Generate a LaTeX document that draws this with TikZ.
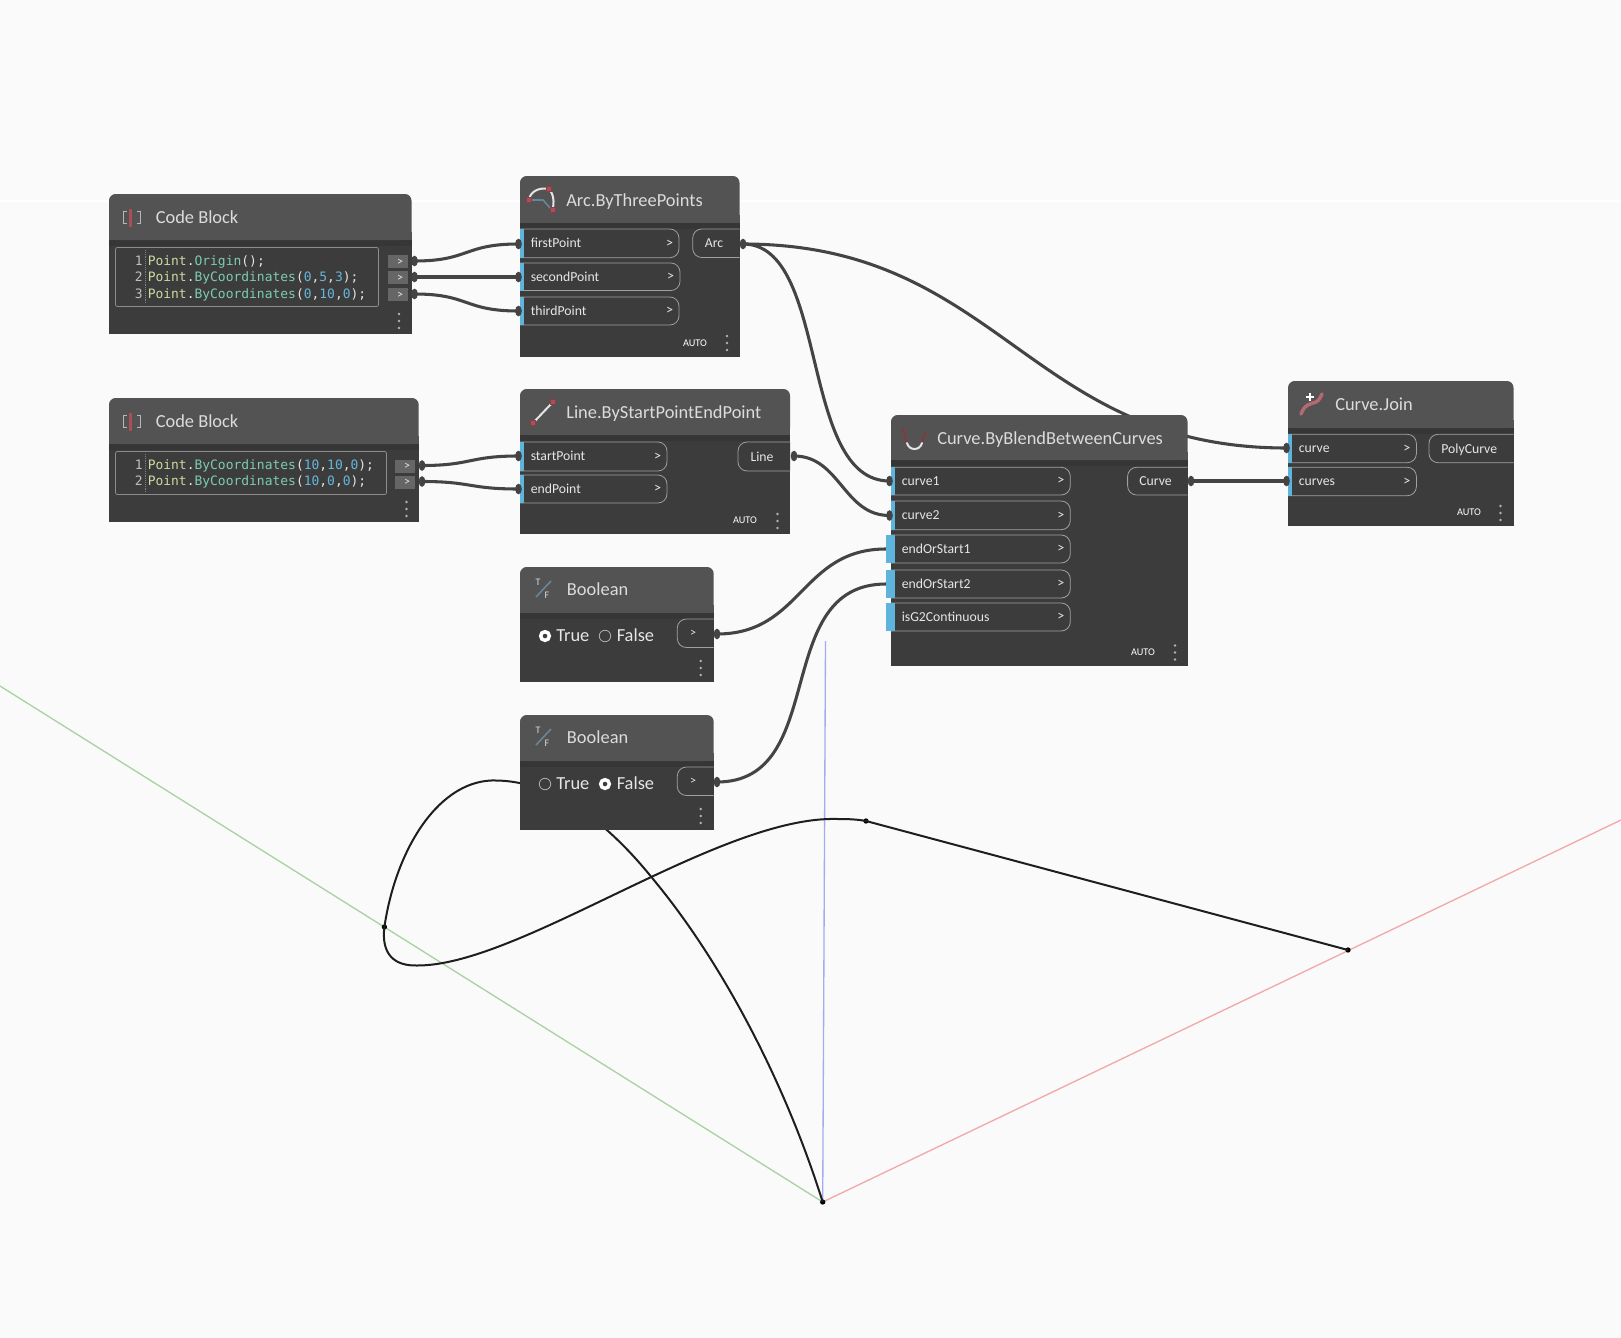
\documentclass[tikz,border=0pt]{standalone}
\usepackage{fontspec}
\setmainfont{Carlito}
\newfontfamily\codefont{DejaVu Sans Mono}
\definecolor{bgc}{HTML}{FAFAFA}
\definecolor{bodyc}{HTML}{3C3C3C}
\definecolor{bandc}{HTML}{363636}
\definecolor{headc}{HTML}{535353}
\definecolor{wirec}{HTML}{444444}
\definecolor{stripc}{HTML}{5FB4DC}
\definecolor{pillc}{HTML}{A0A0A0}
\definecolor{labc}{HTML}{E6E6E6}
\definecolor{titc}{HTML}{DCDCDC}
\definecolor{geoc}{HTML}{1E1E1E}
\definecolor{cP}{HTML}{CADB9E}
\definecolor{cF}{HTML}{7CCBB4}
\definecolor{cN}{HTML}{66B6DA}
\definecolor{cW}{HTML}{E4E4E4}
\definecolor{icred}{HTML}{A84F58}
\definecolor{icblue}{HTML}{66869C}
\definecolor{axg}{HTML}{A9D3A2}
\definecolor{axr}{HTML}{F2A9A9}
\definecolor{axb}{HTML}{A9A9F2}
\newcommand\cPt[1]{\textcolor{cP}{#1}}
\newcommand\cFn[1]{\textcolor{cF}{#1}}
\newcommand\cNm[1]{\textcolor{cN}{#1}}
\pgfdeclarelayer{geom}
\pgfdeclarelayer{wires}
\pgfsetlayers{geom,wires,main}
\usetikzlibrary{shapes.geometric}
\tikzset{
  titletext/.style={anchor=base west,inner sep=0pt,text=titc,font=\fontsize{13.8}{15}\selectfont},
  labeltext/.style={anchor=base west,inner sep=0pt,text=labc,font=\fontsize{10.3}{12}\selectfont},
  outtext/.style={anchor=base,inner sep=0pt,text=labc,font=\fontsize{10.3}{12}\selectfont},
  chev/.style={anchor=center,inner sep=0pt,text=labc,font=\fontsize{10.5}{12}\selectfont},
  smallchev/.style={anchor=center,inner sep=0pt,text=labc,font=\fontsize{9}{10}\selectfont},
  autotext/.style={anchor=center,inner sep=0pt,text=white,font=\fontsize{7.7}{9}\selectfont},
  radiotext/.style={anchor=base west,inner sep=0pt,text=labc,font=\fontsize{13.8}{15}\selectfont},
  codetext/.style={anchor=base west,inner sep=0pt,text=cW,font=\codefont\fontsize{9.72}{11}\selectfont},
  numtext/.style={anchor=base east,inner sep=0pt,text=black!25,font=\codefont\fontsize{9.72}{11}\selectfont},
  pillbox/.style={draw=pillc,line width=0.6pt,fill=bodyc,rounded corners=6.8pt},
  nubbox/.style={ellipse,draw=none,fill=wirec,minimum width=5pt,minimum height=8pt,inner sep=0pt},
  endpt/.style={circle,fill=black,draw=none,minimum size=4pt,inner sep=0pt},
  wire/.style={draw=wirec,line width=2.3pt},
  geocurve/.style={draw=geoc,line width=1.5pt},
  axis/.style={line width=1pt},
  icwhite/.style={draw=white!90!black,line width=1.5pt,line cap=round},
  icsq/.style={draw=icred!80!black,fill=icred,line width=0.3pt},
}
% card: name x1 y1 x2 y2 yh
\newcommand\dyncard[6]{%
  \fill[bodyc] (#2,#6) rectangle (#4,#5);
  \fill[bandc] (#2,#6) rectangle (#4,#6+6);
  \fill[headc,rounded corners=5pt] (#2,#6) -- (#2,#3) -- (#4,#3) -- (#4,#6) -- cycle;
  \fill[headc] (#2,#6-8) rectangle (#4,#6);
}
% in port: name-prefix x y1 y2 xright label striplft
\newcommand\inport[7]{%
  \draw[pillbox] (#2,#3) -- (#5,#3) -- (#5,#4) -- (#2,#4);
  \fill[stripc] (#7,#3) rectangle (#2+4,#4);
  \node[labeltext] (#1-l) at (#2+10.5,{(#3+#4)/2+4.3}) {#6};
  \node[chev] (#1-c) at (#5-9.5,{(#3+#4)/2}) {>};
}
% out port: name x1 x2 y1 y2 label
\newcommand\outport[6]{%
  \draw[pillbox] (#3,#4) -- (#2,#4) -- (#2,#5) -- (#3,#5);
  \node[outtext] (#1-l) at ({(#2+#3)/2-2},{(#4+#5)/2+4.5}) {#6};
}
\newcommand\threedots[3]{%
  \foreach \k in {-7,0,7} \fill[black!30] (#2,#3+\k) circle[radius=1.05pt];
  \coordinate (#1) at (#2,#3);
}
\newcommand\radio[4]{% name x y selected
  \ifnum#4=1
    \node[circle,draw=white,line width=2.6pt,fill=bodyc,minimum size=6.5pt,inner sep=0pt] (#1) at (#2,#3) {};
  \else
    \node[circle,draw=black!30,line width=0.6pt,fill=bodyc,minimum size=8.6pt,inner sep=0pt] (#1) at (#2,#3) {};
  \fi
}
\newcommand\boolicon[3]{% name x y (of card top-left)
  \draw[icblue,line width=1.2pt] (#2+16,#3+30) -- (#2+31,#3+14);
  \node[anchor=center,inner sep=0pt,text=black!15,font=\fontsize{7.5}{8}\selectfont] (#1-t) at (#2+18,#3+15) {T};
  \node[anchor=center,inner sep=0pt,text=black!15,font=\fontsize{7.5}{8}\selectfont] (#1-f) at (#2+27,#3+28) {F};
}
\newcommand\cbicon[2]{%
  \draw[white!72!black,line width=0.75pt] (#1+4.5,#2+17) -- (#1+1,#2+17) -- (#1+1,#2+29) -- (#1+4.5,#2+29);
  \draw[white!72!black,line width=0.75pt] (#1+15,#2+17) -- (#1+18.5,#2+17) -- (#1+18.5,#2+29) -- (#1+15,#2+29);
  \draw[icred,line width=1.9pt] (#1+8.5,#2+15) -- (#1+8.5,#2+33);
}
\begin{document}
\begin{tikzpicture}[x=0.75pt,y=-0.75pt]
\useasboundingbox (0,0) rectangle (1621,1338);
\begin{pgfonlayer}{geom}
  \fill[bgc] (0,0) rectangle (1621,1338);
  \draw[white,line width=0.8pt] (0,201) -- (1621,201);
  \coordinate (origin) at (822.7,1202);
  \coordinate (ygo) at (0,686);
  \coordinate (xgo) at (1621,820);
  \coordinate (zgo) at (825.5,641);
  \draw[axis,draw=axg] (origin) -- (ygo);
  \draw[axis,draw=axr] (origin) -- (xgo);
  \draw[axis,draw=axb] (origin) -- (zgo);
  \node[endpt] (pa) at (384.4,927) {};
  \node[endpt] (pb) at (866,821) {};
  \node[endpt] (pc) at (1348,950) {};
  \node[endpt] (po) at (origin) {};
  % arc, partly behind the second Boolean
  \draw[geocurve] (po.center) .. controls (785,1082) and (722,962) .. (653,879)
     .. controls (620,838) and (565,782) .. (497,780.5)
     .. controls (440,778) and (396,848) .. (pa.center);
  % blend
  \draw[geocurve] (pa.center) .. controls (381,955) and (395,966) .. (417,965.5)
     .. controls (520,966) and (720,815) .. (838,819)
     .. controls (850,819) and (858,819.5) .. (pb.center);
  \draw[geocurve] (pb.center) -- (pc.center);
\end{pgfonlayer}

% ---------- Code Block 1
\dyncard{cb1}{109}{194}{411.5}{334}{240}
\cbicon{122}{194}
\node[titletext] (cb1t) at (155.5,223.5) {Code Block};
\draw[black!45,line width=0.6pt,fill=bodyc,rounded corners=1.5pt] (115.5,247.5) rectangle (378.5,306.5);
\draw[black!50,line width=0.4pt,densely dotted] (145,250) -- (145,303);
\node[numtext] (cb1n1) at (143,265) {1};
\node[numtext] (cb1n2) at (143,281.3) {2};
\node[numtext] (cb1n3) at (143,298) {3};
\node[codetext] (cb1c1) at (147.5,265) {\cPt{Point}.\cFn{Origin}();};
\node[codetext] (cb1c2) at (147.5,281.3) {\cPt{Point}.\cFn{ByCoordinates}(\cNm{0},\cNm{5},\cNm{3});};
\node[codetext] (cb1c3) at (147.5,298) {\cPt{Point}.\cFn{ByCoordinates}(\cNm{0},\cNm{10},\cNm{0});};
\foreach \nm/\yy in {a/261.5,b/277.5,c/294.5}{
  \fill[black!60] (388,\yy-6.5) rectangle (408,\yy+6.5);
  \node[smallchev] (cb1o\nm) at (400,\yy+0.5) {>};
  \node[nubbox] (cb1n\nm) at (414.5,\yy-0.5) {};
}
\threedots{cb1d}{399}{321}

% ---------- Code Block 2
\dyncard{cb2}{109}{398}{418.7}{522}{444}
\cbicon{122}{398}
\node[titletext] (cb2t) at (155.5,427.5) {Code Block};
\draw[black!45,line width=0.6pt,fill=bodyc,rounded corners=1.5pt] (115.5,451.5) rectangle (386.5,494.5);
\draw[black!50,line width=0.4pt,densely dotted] (145,454) -- (145,492);
\node[numtext] (cb2n1) at (143,469) {1};
\node[numtext] (cb2n2) at (143,485) {2};
\node[codetext] (cb2c1) at (147.5,469) {\cPt{Point}.\cFn{ByCoordinates}(\cNm{10},\cNm{10},\cNm{0});};
\node[codetext] (cb2c2) at (147.5,485) {\cPt{Point}.\cFn{ByCoordinates}(\cNm{10},\cNm{0},\cNm{0});};
\foreach \nm/\yy in {a/466,b/482}{
  \fill[black!60] (395,\yy-6.5) rectangle (415,\yy+6.5);
  \node[smallchev] (cb2o\nm) at (407,\yy+0.5) {>};
  \node[nubbox] (cb2n\nm) at (422,\yy-0.5) {};
}
\threedots{cb2d}{406.5}{509}

% ---------- Arc.ByThreePoints
\dyncard{arc}{520}{176}{739.5}{356.7}{222.7}
\draw[icwhite] (529,200) .. controls (530,191) and (540,187) .. (549,189) .. controls (553,193) and (555,202) .. (552.3,210);
\draw[icblue,line width=1.2pt] (530,200) -- (543,200) -- (552,210);
\fill[icsq] (526.5,197.5) rectangle (531.5,202.5);
\fill[icsq] (546.5,186.5) rectangle (551.5,191.5);
\fill[icsq] (550,207.5) rectangle (555,212.5);
\node[titletext] (arct) at (566,206) {Arc.ByThreePoints};
\inport{af}{520}{229}{257.7}{679}{firstPoint}{520}
\inport{as}{520}{263}{290.5}{680}{secondPoint}{520}
\inport{at}{520}{297}{325}{679}{thirdPoint}{520}
\outport{aout}{692.7}{739.5}{229}{257.5}{Arc}
\node[nubbox] (ania) at (518.5,244) {};
\node[nubbox] (anib) at (518.5,277) {};
\node[nubbox] (anic) at (518.5,311) {};
\node[nubbox] (anou) at (743,244) {};
\node[autotext] (aauto) at (695,343) {AUTO};
\threedots{adots}{727}{343}

% ---------- Line.ByStartPointEndPoint
\dyncard{lin}{520}{389}{790}{534}{435}
\draw[icwhite] (533,423) -- (553,402);
\fill[icsq] (530,420.5) rectangle (535,425.5);
\fill[icsq] (550.5,399.5) rectangle (555.5,404.5);
\node[titletext] (lint) at (566,418) {Line.ByStartPointEndPoint};
\inport{ls}{520}{442}{471}{667}{startPoint}{520}
\inport{le}{520}{475}{503}{667}{endPoint}{520}
\outport{lout}{738}{790}{442}{471}{Line}
\node[nubbox] (lnia) at (518.5,456) {};
\node[nubbox] (lnib) at (518.5,489) {};
\node[nubbox] (lnou) at (794,456) {};
\node[autotext] (lauto) at (745,520.5) {AUTO};
\threedots{ldots}{777.5}{521}

% ---------- Boolean 1
\dyncard{bo1}{520}{567}{713.7}{682}{612.7}
\boolicon{bo1i}{520}{567}
\node[titletext] (bo1t) at (566.7,595.5) {Boolean};
\radio{bo1r1}{545}{636}{1}
\radio{bo1r2}{605}{636}{0}
\node[radiotext] (bo1a) at (556,641.5) {True};
\node[radiotext] (bo1b) at (616.5,641.5) {False};
\draw[pillbox] (713.7,619) -- (677.3,619) -- (677.3,647.5) -- (713.7,647.5);
\node[smallchev] (bo1c) at (693,633.5) {>};
\node[nubbox] (bo1n) at (717,634) {};
\threedots{bo1d}{700.7}{668}

% ---------- Boolean 2
\dyncard{bo2}{520}{715}{713.7}{830}{761}
\boolicon{bo2i}{520}{715}
\node[titletext] (bo2t) at (566.7,743.5) {Boolean};
\radio{bo2r1}{545}{784}{0}
\radio{bo2r2}{605}{784}{1}
\node[radiotext] (bo2a) at (556,789) {True};
\node[radiotext] (bo2b) at (616.5,789) {False};
\draw[pillbox] (713.7,767) -- (677.3,767) -- (677.3,795.5) -- (713.7,795.5);
\node[smallchev] (bo2c) at (693,781.5) {>};
\node[nubbox] (bo2n) at (717,782) {};
\threedots{bo2d}{700.7}{816}

% ---------- Curve.ByBlendBetweenCurves
\dyncard{cur}{891}{415}{1187.5}{665.7}{460}
\draw[icred!75!black,line width=1.6pt,line cap=round] (902,428) .. controls (905,431) and (905,438) .. (907,443);
\draw[icred!75!black,line width=1.6pt,line cap=round] (926,432) .. controls (924,435) and (923,439) .. (922,443);
\draw[icwhite] (907,443) .. controls (909,451) and (920,451) .. (922,443);
\node[titletext] (curt) at (937,444) {Curve.ByBlendBetweenCurves};
\inport{c1}{891}{467.3}{495}{1070.3}{curve1}{891}
\inport{c2}{891}{501}{529.7}{1070.3}{curve2}{891}
\inport{c3}{891}{535}{563}{1070.3}{endOrStart1}{886}
\inport{c4}{891}{570}{598}{1070.3}{endOrStart2}{886}
\inport{c5}{891}{603}{631}{1070.3}{isG2Continuous}{886}
\outport{cout}{1127.6}{1187.5}{467.3}{495}{Curve}
\node[nubbox] (cnia) at (889.5,481) {};
\node[nubbox] (cnib) at (889.5,515.5) {};
\coordinate (cnic) at (886,549);
\coordinate (cnid) at (886,584);
\node[nubbox] (cnou) at (1191,481) {};
\node[autotext] (cauto) at (1143,652.5) {AUTO};
\threedots{cdots}{1175}{652.5}

% ---------- Curve.Join
\dyncard{joi}{1288}{381}{1513.5}{526}{428}
\draw[icred!85!white,line width=2.6pt,line cap=round] (1301,414) .. controls (1305,403) and (1312,404) .. (1316,402) .. controls (1320,400) and (1320,397) .. (1322,394);
\draw[white,line width=0.8pt] (1306,397) -- (1314,397) (1310,393) -- (1310,401);
\node[titletext] (joit) at (1335,410) {Curve.Join};
\inport{j1}{1288}{434.3}{462.7}{1416.4}{curve}{1288}
\inport{j2}{1288}{467.3}{495.7}{1416.4}{curves}{1288}
\outport{jout}{1429}{1513.5}{434.3}{462.7}{PolyCurve}
\node[nubbox] (jnia) at (1286.5,448) {};
\node[nubbox] (jnib) at (1286.5,481) {};
\node[autotext] (jauto) at (1469,512.7) {AUTO};
\threedots{jdots}{1500.5}{513}

% ---------- wires
\begin{pgfonlayer}{wires}
  \draw[wire] (cb1na.center) .. controls +(55,0) and +(-55,0) .. (ania.center);
  \draw[wire] (cb1nb.center) -- (anib.center);
  \draw[wire] (cb1nc.center) .. controls +(55,0) and +(-55,0) .. (anic.center);
  \draw[wire] (cb2na.center) .. controls +(50,0) and +(-50,0) .. (lnia.center);
  \draw[wire] (cb2nb.center) .. controls +(50,0) and +(-50,0) .. (lnib.center);
  \draw[wire] (anou.center) .. controls +(87,0) and +(-91,0) .. (cnia.center);
  \draw[wire] (anou.center) .. controls +(257,0) and +(-258,0) .. (jnia.center);
  \draw[wire] (lnou.center) .. controls +(46,0) and +(-46,0) .. (cnib.center);
  \draw[wire] (bo1n.center) .. controls +(85,0) and +(-85,0) .. (cnic);
  \draw[wire] (bo2n.center) .. controls +(113,0) and +(-116,0) .. (cnid);
  \draw[wire] (cnou.center) -- (jnib.center);
\end{pgfonlayer}
\end{tikzpicture}
\end{document}
